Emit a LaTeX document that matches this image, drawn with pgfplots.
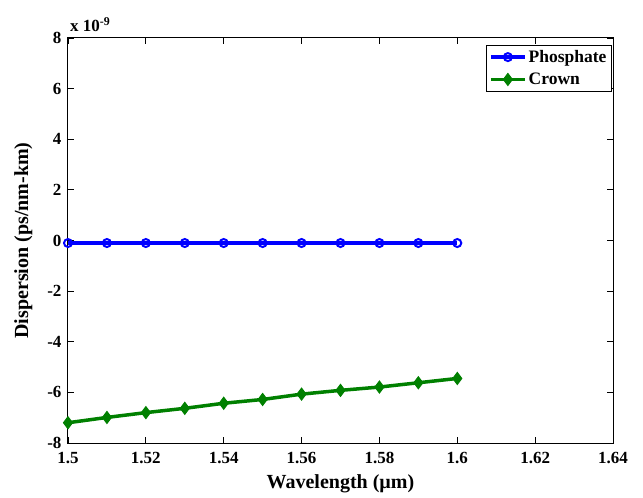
\documentclass[border=0pt]{standalone}
\usepackage{pgfplots}
\pgfplotsset{compat=1.18}
\usepackage{fontspec}
\setmainfont{Liberation Serif}
\definecolor{mblue}{RGB}{0,0,255}
\definecolor{mgreen}{RGB}{0,128,0}
\begin{document}
\begin{tikzpicture}
\begin{axis}[
  scale only axis,
  clip=false,
  width=545pt, height=405pt,
  xmin=1.5, xmax=1.64, ymin=-8, ymax=8,
  xtick={1.5,1.52,1.54,1.56,1.58,1.6,1.62,1.64},
  xticklabels={1.5,1.52,1.54,1.56,1.58,1.6,1.62,1.64},
  ytick={-8,-6,-4,-2,0,2,4,6,8},
  yticklabels={-8,-6,-4,-2,0,2,4,6,8},
  /pgf/number format/assume math mode=true,
  tick align=inside,
  major tick length=6pt,
  axis line style={line width=1pt},
  every tick/.style={black, line width=0.8pt},
  tick label style={font=\fontsize{17}{19}\selectfont\bfseries},
  xticklabel style={yshift=-6pt},
  yticklabel style={xshift=-3pt},
  xlabel={Wavelength (µm)},
  ylabel={Dispersion (ps/nm-km)},
  label style={font=\fontsize{20}{22}\selectfont\bfseries},
  xlabel style={yshift=-4pt},
  ylabel style={yshift=8pt},
  legend style={at={(0.998,0.983)}, anchor=north east, draw=black, line width=0.8pt,
    font=\fontsize{17.5}{19}\selectfont\bfseries, inner sep=3pt, row sep=5pt},
  legend cell align=left,
  legend image code/.code={\draw[mark repeat=2,mark phase=2] plot coordinates {(0cm,0cm)(0.6cm,0cm)(1.2cm,0cm)};},
]
\addplot[mblue, line width=3.5pt, mark=o, mark size=4pt, mark options={line width=2pt, fill=white}]
 coordinates {(1.50,-0.1)(1.51,-0.1)(1.52,-0.1)(1.53,-0.1)(1.54,-0.1)(1.55,-0.1)(1.56,-0.1)(1.57,-0.1)(1.58,-0.1)(1.59,-0.1)(1.60,-0.1)};
\addlegendentry{Phosphate}
\addplot[mgreen, line width=3.5pt, mark=diamond*, mark size=6pt, mark options={line width=1pt, fill=mgreen}]
 coordinates {(1.50,-7.20)(1.51,-6.99)(1.52,-6.80)(1.53,-6.63)(1.54,-6.43)(1.55,-6.28)(1.56,-6.07)(1.57,-5.92)(1.58,-5.79)(1.59,-5.62)(1.60,-5.45)};
\addlegendentry{Crown}
\node[anchor=base west, font=\fontsize{17}{19}\selectfont\bfseries, inner sep=0pt] at ([xshift=2pt,yshift=6pt]rel axis cs:0,1) {x 10\textsuperscript{-9}};
\end{axis}
\path (current axis.south west) ++(-68pt,-55pt) coordinate (bl);
\path (current axis.north east) ++(30pt,38pt) coordinate (tr);
\useasboundingbox (bl) rectangle (tr);
\end{tikzpicture}
\end{document}
